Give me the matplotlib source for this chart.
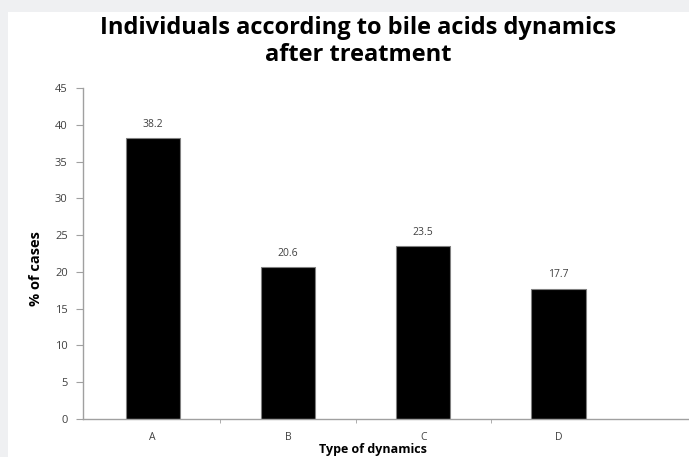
import matplotlib
matplotlib.use("Agg")
import matplotlib.pyplot as plt
from matplotlib.patches import Rectangle
from matplotlib.ticker import FixedLocator, NullFormatter

categories = ["A", "B", "C", "D"]
pct_cases = [38.2, 20.6, 23.5, 17.7]
value_labels = ["38.2", "20.6", "23.5", "17.7"]

plt.rcParams["font.family"] = ["Open Sans", "DejaVu Sans"]

W, H = 689, 457
fig = plt.figure(figsize=(W / 100, H / 100), dpi=100)
fig.patch.set_facecolor("#eff0f2")
# white chart card behind everything
fig.patches.append(Rectangle((8 / W, 0), 1 - 8 / W, 1 - 12 / H,
                             transform=fig.transFigure, facecolor="white",
                             edgecolor="none", zorder=-10))

ax = fig.add_axes([83 / W, (H - 419) / H, (W - 83) / W, (419 - 88) / H])
ax.set_facecolor("none")

x = list(range(len(categories)))
bars = ax.bar(x, pct_cases, width=0.4, color="black", edgecolor="#808080", linewidth=0.8)
for b, lab in zip(bars, value_labels):
    ax.annotate(lab, (b.get_x() + b.get_width() / 2, b.get_height()),
                xytext=(0, 6), textcoords="offset points", ha="center", va="bottom",
                fontsize=7.5, color="#404040")

step = 135.3  # px per category
ax.set_ylim(0, 45)
ax.set_yticks(range(0, 46, 5))
ax.set_xlim(-0.5 - 2 / step, (W - 83 - 2) / step - 0.5)

ax.set_xticks(x)
ax.set_xticklabels(categories, fontsize=7.5, color="#404040")
ax.tick_params(axis="x", which="major", length=0, pad=9)
ax.xaxis.set_minor_locator(FixedLocator([0.5, 1.5, 2.5]))
ax.xaxis.set_minor_formatter(NullFormatter())
ax.tick_params(axis="x", which="minor", length=3, color="#a0a0a0", direction="out")
ax.tick_params(axis="y", length=5, color="#a0a0a0", labelsize=8, labelcolor="#404040", pad=6)

for s in ["top", "right"]:
    ax.spines[s].set_visible(False)
for s in ["left", "bottom"]:
    ax.spines[s].set_color("#a0a0a0")
    ax.spines[s].set_linewidth(1.0)

ax.set_ylabel("% of cases", fontsize=10.5, fontweight="bold")
ax.yaxis.set_label_coords(-40 / (W - 83), (419 - 269) / (419 - 88))
fig.text(373 / W, 1 - 450 / H, "Type of dynamics", ha="center", va="center",
         fontsize=9, fontweight="bold")

fig.text(358 / W, 1 - 28 / H, "Individuals according to bile acids dynamics",
         ha="center", va="center", fontsize=17, fontweight="bold")
fig.text(358 / W, 1 - 55 / H, "after treatment",
         ha="center", va="center", fontsize=17, fontweight="bold")

fig.savefig("out.png", dpi=100, facecolor=fig.get_facecolor())
